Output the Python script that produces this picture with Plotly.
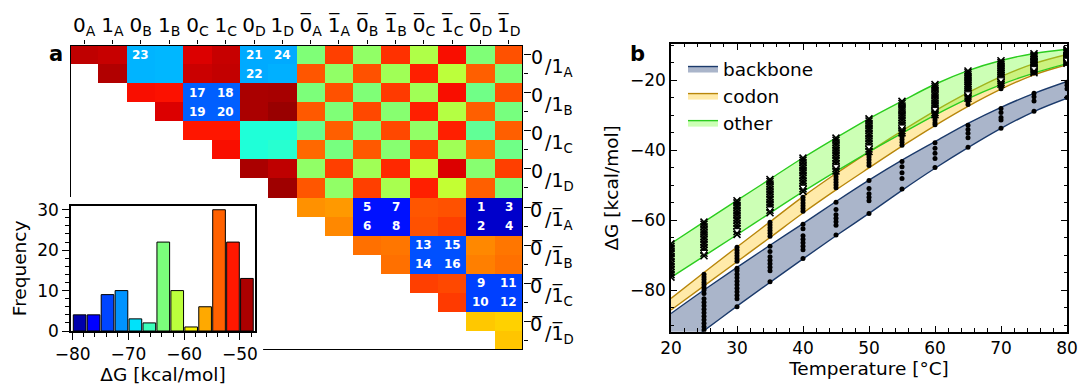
import plotly.graph_objects as go

# ---------------- data: panel a (heatmap) ----------------
col_labels = ["0<sub>A</sub>", "1<sub>A</sub>", "0<sub>B</sub>", "1<sub>B</sub>",
              "0<sub>C</sub>", "1<sub>C</sub>", "0<sub>D</sub>", "1<sub>D</sub>",
              "0\u0305<sub>A</sub>", "1\u0305<sub>A</sub>", "0\u0305<sub>B</sub>", "1\u0305<sub>B</sub>",
              "0\u0305<sub>C</sub>", "1\u0305<sub>C</sub>", "0\u0305<sub>D</sub>", "1\u0305<sub>D</sub>"]
pair_groups = ["A", "B", "C", "D", "A", "B", "C", "D"]
pair_bar = [False, False, False, False, True, True, True, True]

N = None
dG = [
    [-49.3, -49.5, -70.2, -70.1, -50.1, -49.5, -70.5, -70.5, -63.6, -52.6, -62.9, -52.1, -61.7, -50.9, -63.6, -53.2],
    [N, -48.9, -70.2, -70.1, -49.6, -49.4, -70.5, -70.3, -53.4, -62.9, -53.2, -62.3, -51.5, -61.2, -53.7, -63.6],
    [N, N, -50.9, -51.0, -72.9, -72.9, -48.7, -48.6, -63.7, -53.2, -63.6, -52.4, -62.3, -50.9, -64.2, -53.2],
    [N, N, N, -50.1, -72.9, -72.9, -48.7, -48.2, -53.5, -63.6, -52.9, -63.3, -51.5, -61.5, -53.7, -63.9],
    [N, N, N, N, -51.2, -51.2, -67.4, -67.4, -64.5, -53.7, -63.6, -52.9, -62.9, -51.5, -64.8, -53.7],
    [N, N, N, N, N, -50.9, -67.4, -67.1, -54.0, -63.9, -53.5, -63.3, -52.4, -62.3, -54.3, -64.2],
    [N, N, N, N, N, N, -48.7, -49.3, -62.9, -52.6, -62.3, -51.8, -61.2, -50.1, -63.3, -52.6],
    [N, N, N, N, N, N, N, -48.4, -53.4, -62.9, -52.6, -62.0, -51.5, -60.9, -53.7, -63.6],
    [N, N, N, N, N, N, N, N, -55.4, -55.7, -75.4, -75.4, -53.4, -53.2, -77.9, -77.9],
    [N, N, N, N, N, N, N, N, N, -55.1, -75.4, -75.4, -53.2, -52.6, -77.9, -77.9],
    [N, N, N, N, N, N, N, N, N, N, -54.3, -54.5, -73.4, -73.4, -55.1, -54.5],
    [N, N, N, N, N, N, N, N, N, N, N, -54.3, -73.4, -73.4, -54.8, -54.3],
    [N, N, N, N, N, N, N, N, N, N, N, N, -52.6, -52.9, -73.9, -73.9],
    [N, N, N, N, N, N, N, N, N, N, N, N, N, -52.4, -73.9, -73.9],
    [N, N, N, N, N, N, N, N, N, N, N, N, N, N, -57.3, -57.6],
    [N, N, N, N, N, N, N, N, N, N, N, N, N, N, N, -57.2],
]
label_nums = [23, 21, 24, 22, 17, 18, 19, 20, 5, 7, 6, 8, 1, 3, 2, 4,
              13, 15, 14, 16, 9, 11, 10, 12]
label_rows = [0, 0, 0, 1, 2, 2, 3, 3, 8, 8, 9, 9, 8, 8, 9, 9,
              10, 10, 11, 11, 12, 12, 13, 13]
label_cols = [2, 6, 7, 6, 4, 5, 4, 5, 10, 11, 10, 11, 14, 15, 14, 15,
              12, 13, 12, 13, 14, 15, 14, 15]

# histogram (inset)
hist_centers = [-78.75, -76.25, -73.75, -71.25, -68.75, -66.25, -63.75,
                -61.25, -58.75, -56.25, -53.75, -51.25, -48.75]
hist_counts = [4, 4, 9, 10, 3, 2, 22, 10, 1, 6, 30, 22, 13]

# ---------------- data: panel b ----------------
temps = [20, 25, 30, 35, 40, 45, 50, 55, 60, 65, 70, 75, 80]
backbone_hi = [-86.7, -80.0, -73.5, -67.2, -61.0, -54.7, -48.6, -42.9, -37.6, -32.4, -27.8, -23.8, -20.4]
backbone_lo = [-98.5, -91.6, -84.6, -77.8, -71.1, -64.5, -58.1, -51.5, -45.2, -39.3, -33.8, -29.0, -25.2]
codon_hi = [-82.4, -75.0, -67.7, -60.5, -53.3, -46.7, -40.5, -34.5, -28.8, -23.6, -19.0, -15.3, -12.7]
codon_lo = [-85.7, -78.8, -71.9, -65.0, -58.0, -51.4, -45.1, -38.9, -33.0, -27.5, -22.6, -18.5, -15.6]
other_hi = [-66.7, -60.5, -54.4, -48.3, -42.2, -36.5, -31.0, -26.0, -21.2, -17.3, -14.4, -12.4, -11.2]
other_lo = [-76.4, -70.3, -64.2, -58.0, -51.9, -46.1, -40.5, -35.2, -30.0, -25.3, -21.3, -18.0, -15.3]

backbone_pts = {
    25: [-80.0, -81.0, -82.5, -83.5, -84.5, -85.5, -86.5, -87.5, -88.5, -89.5, -90.5, -91.4],
    30: [-73.8, -74.5, -75.5, -76.5, -77.5, -78.5, -79.5, -80.5, -81.5, -82.5, -84.8],
    35: [-67.5, -69.0, -70.5, -71.5, -72.5, -73.5, -74.5, -77.6],
    40: [-61.2, -62.5, -64.5, -65.5, -66.5, -67.5, -68.5, -71.0],
    45: [-54.9, -57.0, -58.5, -59.5, -60.5, -61.5, -64.3],
    50: [-48.7, -51.0, -52.5, -53.5, -54.5, -58.1],
    55: [-43.3, -44.8, -46.5, -48.1, -51.1],
    60: [-37.9, -39.5, -40.9, -42.4, -45.0],
    65: [-32.9, -34.1, -35.2, -36.5, -39.2],
    70: [-28.1, -29.3, -30.7, -31.4, -33.8],
    75: [-23.8, -24.8, -26.0, -28.9],
    80: [-20.6, -21.5, -22.5, -25.0],
}
codon_pts = {
    25: [-75.5, -76.3, -77.0, -77.8, -78.5, -79.3],
    30: [-67.8, -68.6, -69.4, -70.2, -71.0, -71.8],
    35: [-60.6, -61.4, -62.2, -63.0, -63.8, -64.6],
    40: [-53.5, -54.3, -55.1, -55.9, -56.7, -57.5],
    45: [-46.8, -47.6, -48.4, -49.2, -50.0, -50.8],
    50: [-40.6, -41.3, -42.0, -42.8, -43.6, -44.4],
    55: [-34.6, -35.4, -36.2, -37.0, -37.8, -38.6],
    60: [-29.0, -29.8, -30.6, -31.4, -32.2, -32.8],
    65: [-23.8, -24.6, -25.4, -26.2, -27.0],
    70: [-19.2, -19.9, -20.6, -21.3, -22.0, -22.5],
    75: [-15.6, -16.2, -16.8, -17.4, -18.0],
    80: [-12.9, -13.5, -14.1, -14.7, -15.3],
}
other_pts = {
    20: [-66.8, -67.5, -68.1, -68.9, -69.6, -70.4, -71.0, -71.9, -72.6, -73.3, -74.1, -74.9, -75.6, -76.3],
    25: [-60.6, -61.2, -61.9, -62.7, -63.4, -64.0, -64.8, -65.5, -66.3, -67.0, -67.8, -68.6, -69.5, -70.2],
    30: [-54.5, -55.1, -55.8, -56.5, -57.3, -58.0, -58.6, -59.4, -60.1, -60.9, -61.7, -62.4, -63.3, -64.1],
    35: [-48.4, -49.0, -49.7, -50.5, -51.2, -51.9, -52.6, -53.4, -54.1, -54.9, -55.6, -56.3, -57.2, -57.9],
    40: [-42.3, -42.9, -43.6, -44.4, -45.1, -45.8, -46.5, -47.3, -48.0, -48.8, -49.5, -50.3, -51.1, -51.8],
    45: [-36.6, -37.2, -37.9, -38.6, -39.4, -40.1, -40.8, -41.5, -42.3, -43.0, -43.8, -44.6, -45.3, -46.0],
    50: [-31.1, -31.7, -32.4, -33.1, -33.8, -34.5, -35.3, -36.0, -36.7, -37.4, -38.2, -38.9, -39.7, -40.4],
    55: [-26.1, -26.7, -27.4, -28.1, -28.7, -29.4, -30.1, -30.8, -31.5, -32.3, -33.0, -33.7, -34.5, -35.1],
    60: [-21.3, -21.9, -22.5, -23.2, -23.9, -24.5, -25.2, -25.9, -26.6, -27.3, -28.0, -28.6, -29.3, -29.9],
    65: [-17.4, -17.9, -18.5, -19.1, -19.7, -20.3, -20.9, -21.5, -22.1, -22.8, -23.4, -24.0, -24.6, -25.2],
    70: [-14.5, -15.0, -15.5, -16.0, -16.5, -17.0, -17.6, -18.1, -18.6, -19.1, -19.7, -20.2, -20.7, -21.2],
    75: [-12.5, -12.9, -13.3, -13.7, -14.1, -14.6, -15.0, -15.4, -15.8, -16.3, -16.7, -17.1, -17.5, -17.9],
    80: [-11.3, -11.6, -11.9, -12.2, -12.5, -12.9, -13.2, -13.5, -13.8, -14.1, -14.4, -14.7, -15.0, -15.2],
}
tri_T = [25, 30, 35, 40, 45, 50, 55, 60, 65, 70, 75, 80]
tri_vals = [-69.1, -62.9, -56.7, -50.5, -44.6, -39.0, -33.3, -28.3, -23.8, -19.8, -16.6, -14.2]

ZMIN, ZMAX = -80.0, -47.5


# ---------------- helpers ----------------
def _interp(pts, t):
    for (x0, y0), (x1, y1) in zip(pts[:-1], pts[1:]):
        if x0 <= t <= x1:
            return y0 if x1 == x0 else y0 + (y1 - y0) * (t - x0) / (x1 - x0)
    return pts[-1][1]


def jet(t):
    t = min(max(t, 0.0), 1.0)
    r = _interp([(0, 0), (0.35, 0), (0.66, 1), (0.89, 1), (1, 0.5)], t)
    g = _interp([(0, 0), (0.125, 0), (0.375, 1), (0.64, 1), (0.91, 0), (1, 0)], t)
    b = _interp([(0, 0.5), (0.11, 1), (0.34, 1), (0.65, 0), (1, 0)], t)
    return "rgb(%d,%d,%d)" % (round(r * 255), round(g * 255), round(b * 255))


jet_scale = [[i / 100, jet(i / 100)] for i in range(101)]

FONT = "DejaVu Sans"
W, H = 1082, 390

fig = go.Figure()

# heatmap
fig.add_trace(go.Heatmap(
    z=dG, x=list(range(16)), y=list(range(16)),
    colorscale=jet_scale, zmin=ZMIN, zmax=ZMAX, showscale=False,
    hoverinfo="skip", xaxis="x", yaxis="y"))

# histogram inset
fig.add_trace(go.Bar(
    x=hist_centers, y=hist_counts, width=2.27,
    marker=dict(color=[jet((c - ZMIN) / (ZMAX - ZMIN)) for c in hist_centers],
                line=dict(color="black", width=1)),
    showlegend=False, hoverinfo="skip", xaxis="x2", yaxis="y2"))

# bands
bands = [("backbone", backbone_lo, backbone_hi, "#1b3a6b", "rgba(31,61,115,0.38)"),
         ("codon", codon_lo, codon_hi, "#b8860b", "rgba(255,204,51,0.42)"),
         ("other", other_lo, other_hi, "#2bcc1f", "rgba(120,255,60,0.38)")]
for name, lo, hi, lc, fc in bands:
    fig.add_trace(go.Scatter(x=temps, y=lo, mode="lines", line=dict(color=lc, width=1.4, shape="spline"),
                             showlegend=False, hoverinfo="skip", xaxis="x3", yaxis="y3"))
    fig.add_trace(go.Scatter(x=temps, y=hi, mode="lines", line=dict(color=lc, width=1.4, shape="spline"),
                             fill="tonexty", fillcolor=fc, name=name, hoverinfo="skip",
                             xaxis="x3", yaxis="y3"))

# points
ox, oy = [], []
for T in temps:
    for v in other_pts.get(T, []):
        ox.append(T); oy.append(v)
fig.add_trace(go.Scatter(x=ox, y=oy, mode="markers",
                         marker=dict(symbol="x-thin", size=7, line=dict(color="black", width=1.6)),
                         showlegend=False, hoverinfo="skip", xaxis="x3", yaxis="y3"))
for pts in (codon_pts, backbone_pts):
    px, py = [], []
    for T in temps:
        for v in pts.get(T, []):
            px.append(T); py.append(v)
    fig.add_trace(go.Scatter(x=px, y=py, mode="markers",
                             marker=dict(symbol="circle", size=5, color="black"),
                             showlegend=False, hoverinfo="skip", xaxis="x3", yaxis="y3"))
fig.add_trace(go.Scatter(x=tri_T, y=tri_vals, mode="markers",
                         marker=dict(symbol="triangle-down", size=6, color="white",
                                     line=dict(color="black", width=1)),
                         showlegend=False, hoverinfo="skip", xaxis="x3", yaxis="y3"))


def px2paper_x(p):
    return p / W


def px2paper_y(p):
    return 1 - p / H


annotations = []
# numbers in cells
for n, r, c in zip(label_nums, label_rows, label_cols):
    annotations.append(dict(x=c, y=r, xref="x", yref="y", text="<b>%d</b>" % n, showarrow=False,
                            font=dict(family=FONT, size=12, color="white")))
# right-hand pair labels
for k, (g, bar) in enumerate(zip(pair_groups, pair_bar)):
    o = "\u0305" if bar else ""
    yc = 2 * k + 0.5
    annotations.append(dict(x=px2paper_x(543.5), y=yc, xref="paper", yref="y", yshift=7,
                            text="0" + o, showarrow=False, xanchor="right", yanchor="middle",
                            borderpad=0, font=dict(family=FONT, size=19, color="black")))
    annotations.append(dict(x=px2paper_x(543.5), y=yc, xref="paper", yref="y", yshift=-3,
                            text="/1" + o + "<sub>" + g + "</sub>", showarrow=False,
                            xanchor="left", yanchor="middle", borderpad=0,
                            font=dict(family=FONT, size=19, color="black")))
# panel letters
annotations.append(dict(x=px2paper_x(47), y=px2paper_y(40), xref="paper", yref="paper", text="<b>a</b>",
                        showarrow=False, font=dict(family=FONT, size=21, color="black")))
annotations.append(dict(x=px2paper_x(637), y=px2paper_y(40), xref="paper", yref="paper", text="<b>b</b>",
                        showarrow=False, font=dict(family=FONT, size=21, color="black")))

shapes = []
frame = [(-0.5, -0.5, 15.5, -0.5), (15.5, -0.5, 15.5, 15.5),
         (-0.5, -0.5, -0.5, 7.47), (6.32, 15.5, 15.5, 15.5)]
for x0, y0, x1, y1 in frame:
    shapes.append(dict(type="line", xref="x", yref="y", x0=x0, y0=y0, x1=x1, y1=y1,
                       line=dict(color="black", width=2), layer="above"))

tickfont = dict(family=FONT, size=17, color="black")
titlefont = dict(family=FONT, size=18.5, color="black")

fig.update_layout(
    width=W, height=H, margin=dict(l=0, r=0, t=0, b=0, autoexpand=False),
    paper_bgcolor="white", plot_bgcolor="white",
    font=dict(family=FONT, color="black"),
    showlegend=True, hovermode=False,
    legend=dict(x=px2paper_x(683), y=px2paper_y(50), xanchor="left", yanchor="top",
                bgcolor="rgba(0,0,0,0)", font=dict(family=FONT, size=18.5, color="black"),
                tracegroupgap=0, itemwidth=30, traceorder="normal"),
    annotations=annotations, shapes=shapes,
    xaxis=dict(domain=[px2paper_x(70), px2paper_x(523)], anchor="y", side="top", automargin=False,
               range=[-0.5, 15.5], tickmode="array", tickvals=list(range(16)), ticktext=col_labels,
               ticks="outside", ticklen=4, tickwidth=1.3, tickcolor="black",
               showgrid=False, zeroline=False, showline=False,
               tickfont=dict(family=FONT, size=20, color="black")),
    yaxis=dict(domain=[px2paper_y(350), px2paper_y(45)], anchor="x", side="right", automargin=False,
               range=[15.5, -0.5], tickmode="array", tickvals=list(range(0, 16, 2)),
               ticks="outside", ticklen=7, tickwidth=1.3, tickcolor="black", showticklabels=False,
               minor=dict(tickvals=list(range(1, 16, 2)), ticks="outside", ticklen=4,
                          tickwidth=1.3, tickcolor="black"),
               showgrid=False, zeroline=False, showline=False),
    xaxis2=dict(domain=[px2paper_x(71), px2paper_x(255)], anchor="y2", range=[-80.3, -47.3], automargin=False,
                tickmode="array", tickvals=[-80, -70, -60, -50], ticks="outside", ticklen=7,
                tickwidth=1.3, tickcolor="black",
                minor=dict(dtick=2, tick0=0, ticks="outside", ticklen=4, tickwidth=1.1, tickcolor="black"),
                showline=True, linecolor="black", linewidth=1.6, mirror=True,
                showgrid=False, zeroline=False, tickfont=tickfont,
                title=dict(text="\u0394G [kcal/mol]", font=titlefont, standoff=4)),
    yaxis2=dict(domain=[px2paper_y(331), px2paper_y(205.7)], anchor="x2", range=[0, 31], automargin=False,
                tickmode="array", tickvals=[0, 10, 20, 30], ticks="outside", ticklen=7,
                tickwidth=1.3, tickcolor="black",
                minor=dict(dtick=2, tick0=0, ticks="outside", ticklen=4, tickwidth=1.1, tickcolor="black"),
                showline=True, linecolor="black", linewidth=1.6, mirror=True,
                showgrid=False, zeroline=False, tickfont=tickfont,
                title=dict(text="Frequency", font=titlefont, standoff=6)),
    xaxis3=dict(domain=[px2paper_x(671), px2paper_x(1067)], anchor="y3", range=[20, 80], automargin=False,
                tickmode="array", tickvals=[20, 30, 40, 50, 60, 70, 80], ticks="inside", ticklen=6,
                tickwidth=1.2, tickcolor="black",
                minor=dict(dtick=2, tick0=0, ticks="inside", ticklen=3.5, tickwidth=1, tickcolor="black"),
                showline=True, linecolor="black", linewidth=1.6, mirror="allticks",
                showgrid=False, zeroline=False, tickfont=tickfont,
                title=dict(text="Temperature [\u00b0C]", font=titlefont, standoff=4)),
    yaxis3=dict(domain=[px2paper_y(331.7), px2paper_y(44)], anchor="x3", range=[-91.9, -9.7], automargin=False,
                tickmode="array", tickvals=[-80, -60, -40, -20], ticks="inside", ticklen=6,
                tickwidth=1.2, tickcolor="black",
                minor=dict(dtick=5, tick0=0, ticks="inside", ticklen=3.5, tickwidth=1, tickcolor="black"),
                showline=True, linecolor="black", linewidth=1.6, mirror="allticks",
                showgrid=False, zeroline=False, tickfont=tickfont,
                title=dict(text="\u0394G [kcal/mol]", font=titlefont, standoff=6)),
)

fig.write_html("out.html")
